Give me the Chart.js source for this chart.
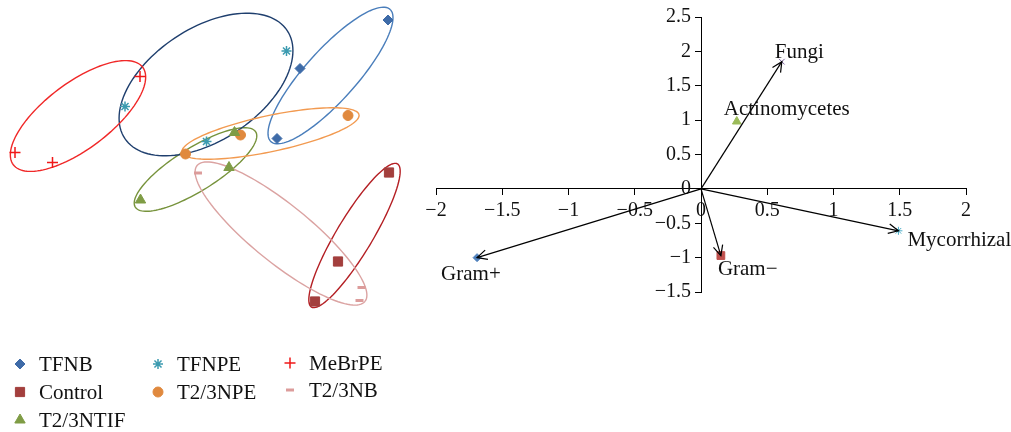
<!DOCTYPE html>
<html>
<head>
<meta charset="utf-8">
<script src="https://cdn.jsdelivr.net/npm/chart.js@4.4.1/dist/chart.umd.min.js"></script>
<style>
  body { margin: 0; background: #fff; }
  #left { position: absolute; left: 0; top: 0; }
  #right { position: absolute; left: 420px; top: 0; }
</style>
</head>
<body>
<canvas id="left" width="420" height="432"></canvas>
<canvas id="right" width="591" height="320"></canvas>
<script>
// left plot: treatment scores (three replicates each)
const groups = ['TFNB', 'Control', 'T2/3NTIF', 'TFNPE', 'T2/3NPE', 'MeBrPE', 'T2/3NB'];
const groupX = [
  [3.56, 1.80, 1.34],
  [3.58, 2.56, 2.10],
  [0.49, 0.38, -1.39],
  [1.53, -1.70, -0.07],
  [2.76, 0.61, -0.49],
  [-1.40, -3.90, -3.15],
  [-0.24, 3.03, 2.99]
];
const groupY = [
  [2.80, 1.83, 0.43],
  [-0.25, -2.03, -2.83],
  [0.55, -0.15, -0.80],
  [2.18, 1.07, 0.37],
  [0.89, 0.50, 0.12],
  [1.67, 0.15, -0.05],
  [-0.26, -2.55, -2.81]
];
// confidence ellipses: centre, semi-axes, tilt (degrees)
const ellCx = [2.41, 2.89, -0.29, -0.08, 1.21, -2.64, 1.42];
const ellCy = [1.69, -1.51, -0.19, 1.51, 0.53, 0.88, -1.47];
const ellA = [1.78, 1.67, 1.42, 1.95, 1.81, 1.62, 2.16];
const ellB = [0.51, 0.36, 0.43, 1.12, 0.36, 0.66, 0.58];
const ellAngle = [48, 59, 32, 33.6, 12, 37, -39];

// right plot: variable loadings
const vars = ['Gram+', 'Gram\u2212', 'Mycorrhizal', 'Fungi', 'Actinomycetes'];
const varX = [-1.69, 0.15, 1.49, 0.61, 0.27];
const varY = [-1.00, -0.97, -0.61, 1.85, 0.98];
const varArrow = [true, true, true, true, false];

// styles
const markerColors = ['#3e6ba8', '#a33f3d', '#7f9c45', '#3c9bb0', '#e0893e', '#f01818', '#dc9c9b'];
const ellipseColors = ['#4a7ebb', '#b41f24', '#77933c', '#1f3f6e', '#f29a50', '#f02828', '#dba3a2'];
const markerStyles = ['rectRot', 'rect', 'triangle', 'star', 'circle', 'cross', 'line'];
const markerSizes = [5, 6.5, 6, 5, 5, 5.5, 4];
const markerBorders = [1, 1, 1, 1.5, 1, 1.5, 3];
const legendPos = [[20, 364], [20, 392], [20, 420], [158, 364], [158, 392], [290, 363], [290, 390]];
const textOffsets = [[-36, 17], [-3, 14], [9, 10], [-7, -9], [-13, -12]];
const varColors = ['#4f81bd', '#c0504d', '#4bacc6', '#8064a2', '#9bbb59'];
const varStyles = ['rectRot', 'rect', 'star', 'crossRot', 'triangle'];
const varSizes = [4, 5.5, 4, 4, 5];

const serif = '"Liberation Serif", "Times New Roman", serif';

const ellipsePlugin = {
  id: 'ellipses',
  beforeDatasetsDraw(chart) {
    const ctx = chart.ctx;
    const xs = chart.scales.x, ys = chart.scales.y;
    ctx.save();
    groups.forEach((g, i) => {
      const th = ellAngle[i] * Math.PI / 180;
      ctx.beginPath();
      for (let k = 0; k <= 120; k++) {
        const t = k / 120 * Math.PI * 2;
        const ex = ellCx[i] + ellA[i] * Math.cos(t) * Math.cos(th) - ellB[i] * Math.sin(t) * Math.sin(th);
        const ey = ellCy[i] + ellA[i] * Math.cos(t) * Math.sin(th) + ellB[i] * Math.sin(t) * Math.cos(th);
        const px = xs.getPixelForValue(ex), py = ys.getPixelForValue(ey);
        if (k === 0) ctx.moveTo(px, py); else ctx.lineTo(px, py);
      }
      ctx.strokeStyle = ellipseColors[i];
      ctx.lineWidth = 1.4;
      ctx.stroke();
    });
    ctx.restore();
  }
};

const legendPlugin = {
  id: 'gridLegend',
  afterDraw(chart) {
    const ctx = chart.ctx;
    ctx.save();
    groups.forEach((g, i) => {
      const [lx, ly] = legendPos[i];
      ctx.fillStyle = markerColors[i];
      ctx.strokeStyle = markerColors[i];
      ctx.lineWidth = markerBorders[i];
      Chart.helpers.drawPoint(ctx, {pointStyle: markerStyles[i], radius: markerSizes[i], borderWidth: markerBorders[i], rotation: 0}, lx, ly);
      ctx.fillStyle = '#111';
      ctx.font = '21px ' + serif;
      ctx.textBaseline = 'middle';
      ctx.textAlign = 'left';
      ctx.fillText(g, lx + 19, ly + 1);
    });
    ctx.restore();
  }
};

new Chart(document.getElementById('left'), {
  type: 'scatter',
  data: {
    datasets: groups.map((g, i) => ({
      label: g,
      data: groupX[i].map((x, j) => ({x: x, y: groupY[i][j]})),
      pointStyle: markerStyles[i],
      pointRadius: markerSizes[i],
      pointBorderWidth: markerBorders[i],
      pointBackgroundColor: markerColors[i],
      pointBorderColor: markerColors[i]
    }))
  },
  options: {
    responsive: false,
    animation: false,
    layout: {autoPadding: false, padding: {left: 0, right: 0, top: 0, bottom: 112}},
    scales: {
      x: {display: false, min: -4.2, max: 4.2},
      y: {display: false, min: -3.2, max: 3.2}
    },
    plugins: {legend: {display: false}, tooltip: {enabled: false}}
  },
  plugins: [ellipsePlugin, legendPlugin]
});

const arrowPlugin = {
  id: 'arrows',
  afterDatasetsDraw(chart) {
    const ctx = chart.ctx;
    ctx.save();
    chart.data.datasets.forEach((ds, i) => {
      if (!ds.arrow) return;
      const pts = chart.getDatasetMeta(i).data;
      const a = pts[0], b = pts[1];
      const ang = Math.atan2(b.y - a.y, b.x - a.x);
      ctx.beginPath();
      ctx.moveTo(b.x - 11 * Math.cos(ang - 0.45), b.y - 11 * Math.sin(ang - 0.45));
      ctx.lineTo(b.x, b.y);
      ctx.lineTo(b.x - 11 * Math.cos(ang + 0.45), b.y - 11 * Math.sin(ang + 0.45));
      ctx.strokeStyle = '#000';
      ctx.lineWidth = 1.2;
      ctx.stroke();
    });
    // variable names
    const xs = chart.scales.x, ys = chart.scales.y;
    ctx.fillStyle = '#111';
    ctx.font = '21px ' + serif;
    ctx.textBaseline = 'middle';
    ctx.textAlign = 'left';
    vars.forEach((v, i) => {
      ctx.fillText(v, xs.getPixelForValue(varX[i]) + textOffsets[i][0], ys.getPixelForValue(varY[i]) + textOffsets[i][1]);
    });
    ctx.restore();
  }
};

const tickFmt = v => (v < 0 ? '\u2212' + Math.abs(v) : String(v));

const rightSets = [];
vars.forEach((v, i) => {
  if (varArrow[i]) {
    rightSets.push({
      type: 'line',
      label: v + ' vector',
      arrow: true,
      data: [{x: 0, y: 0}, {x: varX[i], y: varY[i]}],
      borderColor: '#000',
      borderWidth: 1.2,
      pointRadius: 0
    });
  }
});
vars.forEach((v, i) => {
  rightSets.push({
    type: 'scatter',
    label: v,
    data: [{x: varX[i], y: varY[i]}],
    pointStyle: varStyles[i],
    pointRadius: varSizes[i],
    pointBorderWidth: 1,
    pointBackgroundColor: varColors[i],
    pointBorderColor: varColors[i]
  });
});

new Chart(document.getElementById('right'), {
  type: 'scatter',
  data: {datasets: rightSets},
  options: {
    responsive: false,
    animation: false,
    layout: {autoPadding: false, padding: {left: 16, right: 45, top: 17, bottom: 28}},
    scales: {
      x: {
        type: 'linear', min: -2, max: 2,
        position: {y: 0},
        afterFit: s => { s.height = 0; },
        ticks: {stepSize: 0.5, color: '#111', font: {family: serif, size: 20}, padding: 4, maxRotation: 0, autoSkip: false, callback: tickFmt},
        grid: {drawOnChartArea: false, color: '#000', tickLength: 6},
        border: {color: '#000', width: 1}
      },
      y: {
        type: 'linear', min: -1.5, max: 2.5,
        position: {x: 0},
        afterFit: s => { s.width = 0; },
        // axis placed at x = 0 gets no label offset, so pad with an en space
        ticks: {stepSize: 0.5, color: '#111', font: {family: serif, size: 20}, autoSkip: false, callback: v => tickFmt(v) + '\u2002'},
        grid: {drawOnChartArea: false, color: '#000', tickLength: 6},
        border: {color: '#000', width: 1}
      }
    },
    plugins: {legend: {display: false}, tooltip: {enabled: false}}
  },
  plugins: [arrowPlugin]
});
</script>
</body>
</html>
